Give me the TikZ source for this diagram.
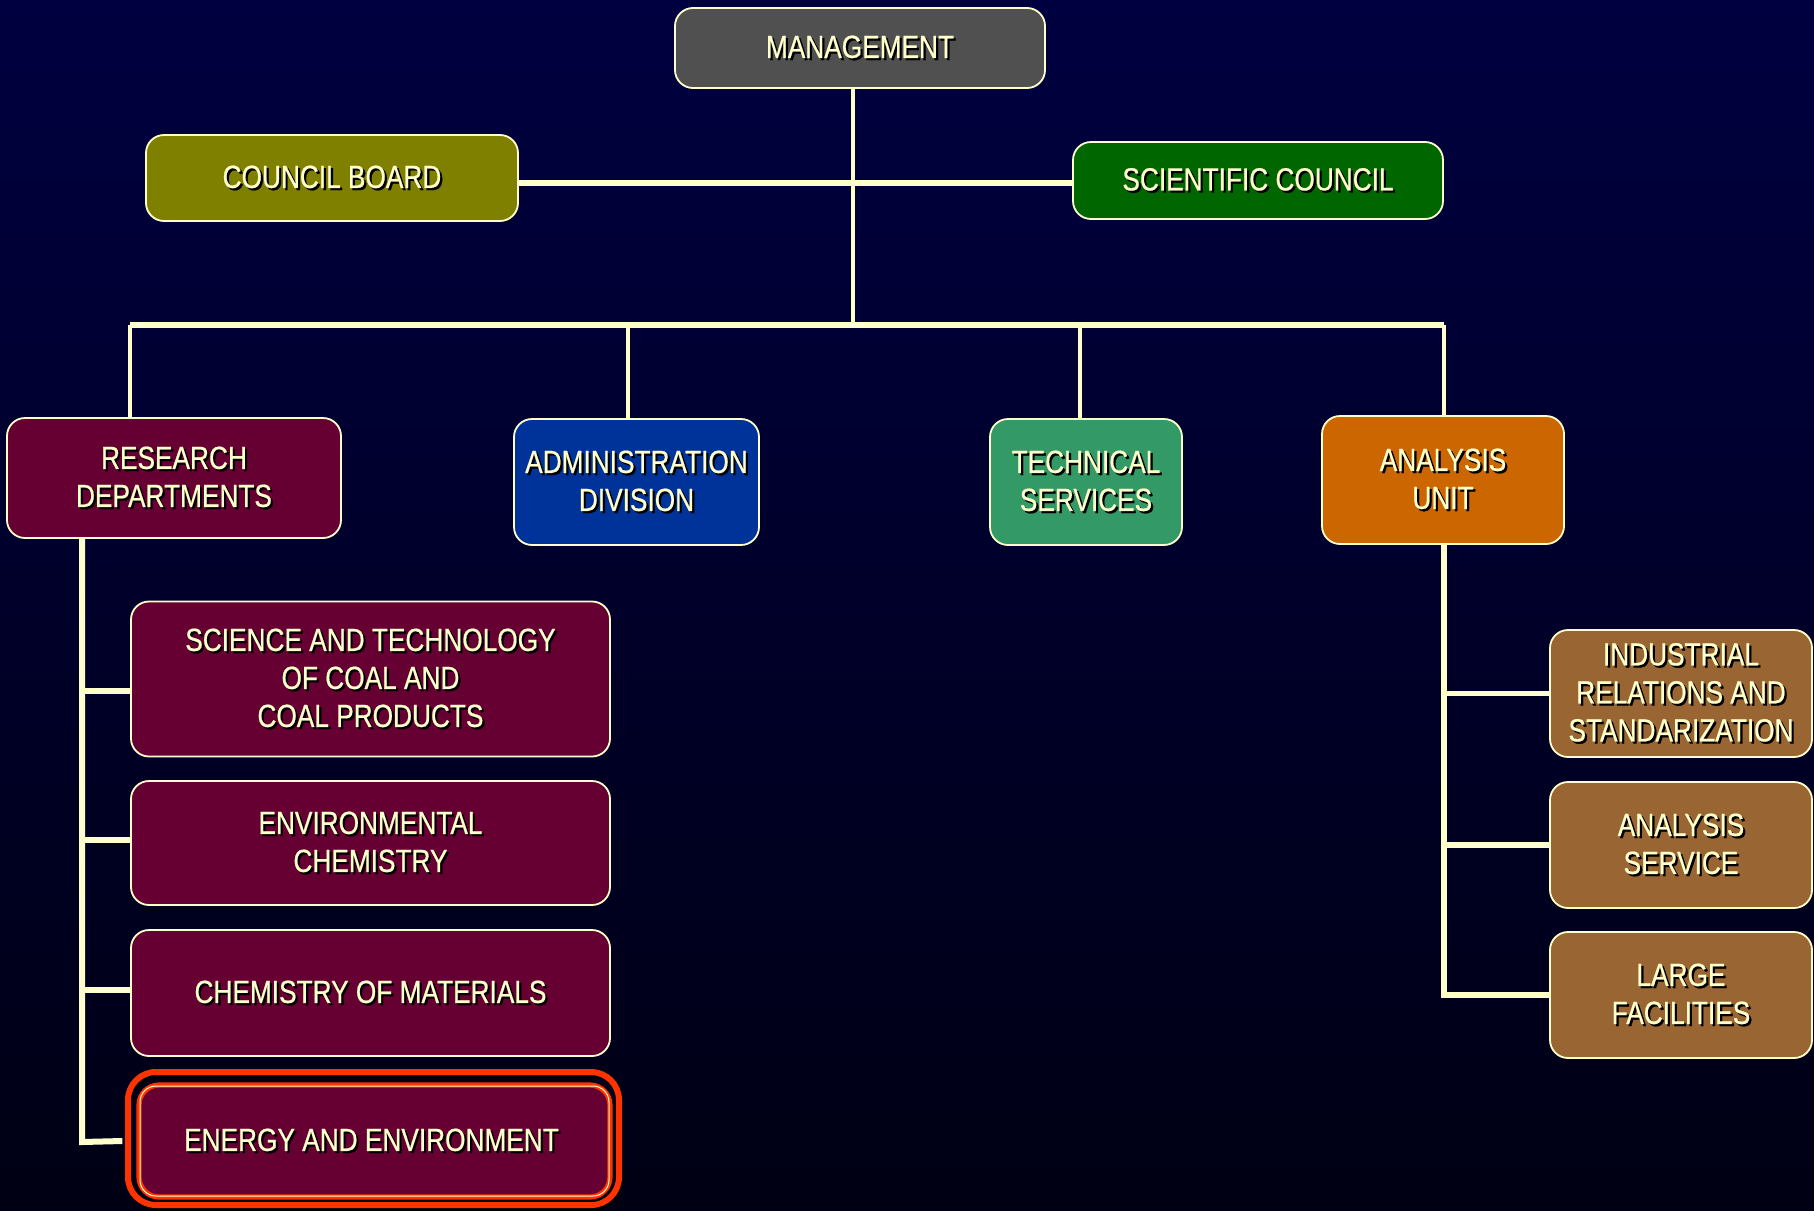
\documentclass[tikz,border=0pt]{standalone}
\usepackage{fontspec}
\setmainfont[FakeStretch=0.82,FakeBold=0.6]{Liberation Sans}
\definecolor{bgtop}{HTML}{000040}
\definecolor{bgmid}{HTML}{000036}
\definecolor{bgbot}{HTML}{000014}
\definecolor{cream}{HTML}{FFFFCC}
\definecolor{mgray}{HTML}{505050}
\definecolor{olivebox}{HTML}{808000}
\definecolor{sgreen}{HTML}{006600}
\definecolor{maroonbox}{HTML}{660033}
\definecolor{ablue}{HTML}{003399}
\definecolor{tgreen}{HTML}{339966}
\definecolor{aorange}{HTML}{CC6600}
\definecolor{brownbox}{HTML}{996633}
\definecolor{ered}{HTML}{FF3300}
\newcommand\shd[1]{\leavevmode\rlap{\hspace{1.1pt}\raisebox{-1.1pt}{\color{black}#1}}#1}
\tikzset{
  orgbox/.style={draw=cream, line width=0.9pt, rounded corners=9pt, text=cream,
    font=\fontsize{16}{19}\selectfont, align=center, inner sep=0pt},
  thinln/.style={draw=cream, line width=1.6pt},
  thickln/.style={draw=cream, line width=2.7pt},
  trunkln/.style={draw=cream, line width=3pt},
}
\begin{document}
\begin{tikzpicture}[x=0.5pt,y=-0.5pt]
\useasboundingbox (0,0) rectangle (1814,1210);
\shade[top color=bgtop, middle color=bgmid, bottom color=bgbot] (0,0) rectangle (1814,1210);

% top level
\node[orgbox, fill=mgray, minimum width=185pt, minimum height=40pt] (mgmt) at (860,48) {\shd{MANAGEMENT}};
\node[orgbox, fill=olivebox, minimum width=186pt, minimum height=43pt] (council) at (332,178) {\shd{COUNCIL BOARD}};
\node[orgbox, fill=sgreen, minimum width=185pt, minimum height=38.5pt] (scientific) at (1258,180.5) {\shd{SCIENTIFIC COUNCIL}};

% second level
\node[orgbox, fill=maroonbox, minimum width=167pt, minimum height=60pt] (research) at (174,478) {\shd{RESEARCH}\\\shd{DEPARTMENTS}};
\node[orgbox, fill=ablue, minimum width=122.5pt, minimum height=63pt] (admin) at (636.5,482) {\shd{ADMINISTRATION}\\\shd{DIVISION}};
\node[orgbox, fill=tgreen, minimum width=96pt, minimum height=63pt] (tech) at (1086,482) {\shd{TECHNICAL}\\\shd{SERVICES}};
\node[orgbox, fill=aorange, minimum width=121pt, minimum height=64pt] (analysis) at (1443,480) {\shd{ANALYSIS}\\\shd{UNIT}};

% research departments
\node[orgbox, fill=maroonbox, minimum width=239.5pt, minimum height=77.5pt] (coal) at (370.5,679) {\shd{SCIENCE AND TECHNOLOGY}\\\shd{OF COAL AND}\\\shd{COAL PRODUCTS}};
\node[orgbox, fill=maroonbox, minimum width=239.5pt, minimum height=62pt] (env) at (370.5,843) {\shd{ENVIRONMENTAL}\\\shd{CHEMISTRY}};
\node[orgbox, fill=maroonbox, minimum width=239.5pt, minimum height=63pt] (mat) at (370.5,993) {\shd{CHEMISTRY OF MATERIALS}};

% highlighted box: shadow, outer ring, then the box with its red border
\draw[black, line width=3pt, rounded corners=14pt]
  (130,1075) rectangle (621,1208);
\draw[ered, line width=3pt, rounded corners=14pt]
  (128,1072) rectangle (619,1205);
\draw[black, line width=2.6pt, rounded corners=10pt]
  (141,1088) rectangle (612,1199);
\node[orgbox, draw=ered, line width=2.6pt, rounded corners=10pt, fill=maroonbox,
  minimum width=235.5pt, minimum height=56pt] (energy) at (374.5,1141) {\shd{ENERGY AND ENVIRONMENT}\hspace*{3pt}};
\draw[cream, line width=0.5pt, rounded corners=8pt]
  ([xshift=1.8pt,yshift=-1.8pt]energy.north west) rectangle ([xshift=-1.8pt,yshift=1.8pt]energy.south east);

% analysis unit
\node[orgbox, fill=brownbox, minimum width=131pt, minimum height=63.5pt] (indus) at (1681,693.5) {\shd{INDUSTRIAL}\\\shd{RELATIONS AND}\\\shd{STANDARIZATION}};
\node[orgbox, fill=brownbox, minimum width=131pt, minimum height=63pt] (aserv) at (1681,845) {\shd{ANALYSIS}\\\shd{SERVICE}};
\node[orgbox, fill=brownbox, minimum width=131pt, minimum height=63pt] (large) at (1681,995) {\shd{LARGE}\\\shd{FACILITIES}};

% connectors
\coordinate (bj) at (853,325);
\coordinate (bl) at (130,325);
\coordinate (br) at (1444,325);
\coordinate (ba) at (628,325);
\coordinate (bt) at (1080,325);
\coordinate (cb) at (853,183);
\coordinate (rt) at (82,1142);
\coordinate (at) at (1444,995);

\draw[thickln] (council.east |- cb) -- (scientific.west |- cb);
\draw[thinln] (mgmt.south -| bj) -- (bj);
\draw[thickln] (bl) -- (br);
\draw[thinln] (bl) -- (research.north -| bl);
\draw[thinln] (ba) -- (admin.north -| ba);
\draw[thinln] (bt) -- (tech.north -| bt);
\draw[thinln] (br) -- (analysis.north -| br);

\draw[trunkln] (research.south -| rt) -- (rt) -- ([xshift=-7pt]energy.west);
\draw[thickln] ([yshift=-6pt]coal.west -| rt) -- ([yshift=-6pt]coal.west);
\draw[thickln] ([yshift=1.5pt]env.west -| rt) -- ([yshift=1.5pt]env.west);
\draw[thickln] ([yshift=1.5pt]mat.west -| rt) -- ([yshift=1.5pt]mat.west);

\draw[trunkln] (analysis.south -| at) -- (at) -- (large.west);
\draw[thickln] (indus.west -| at) -- (indus.west);
\draw[thickln] (aserv.west -| at) -- (aserv.west);
\end{tikzpicture}
\end{document}
